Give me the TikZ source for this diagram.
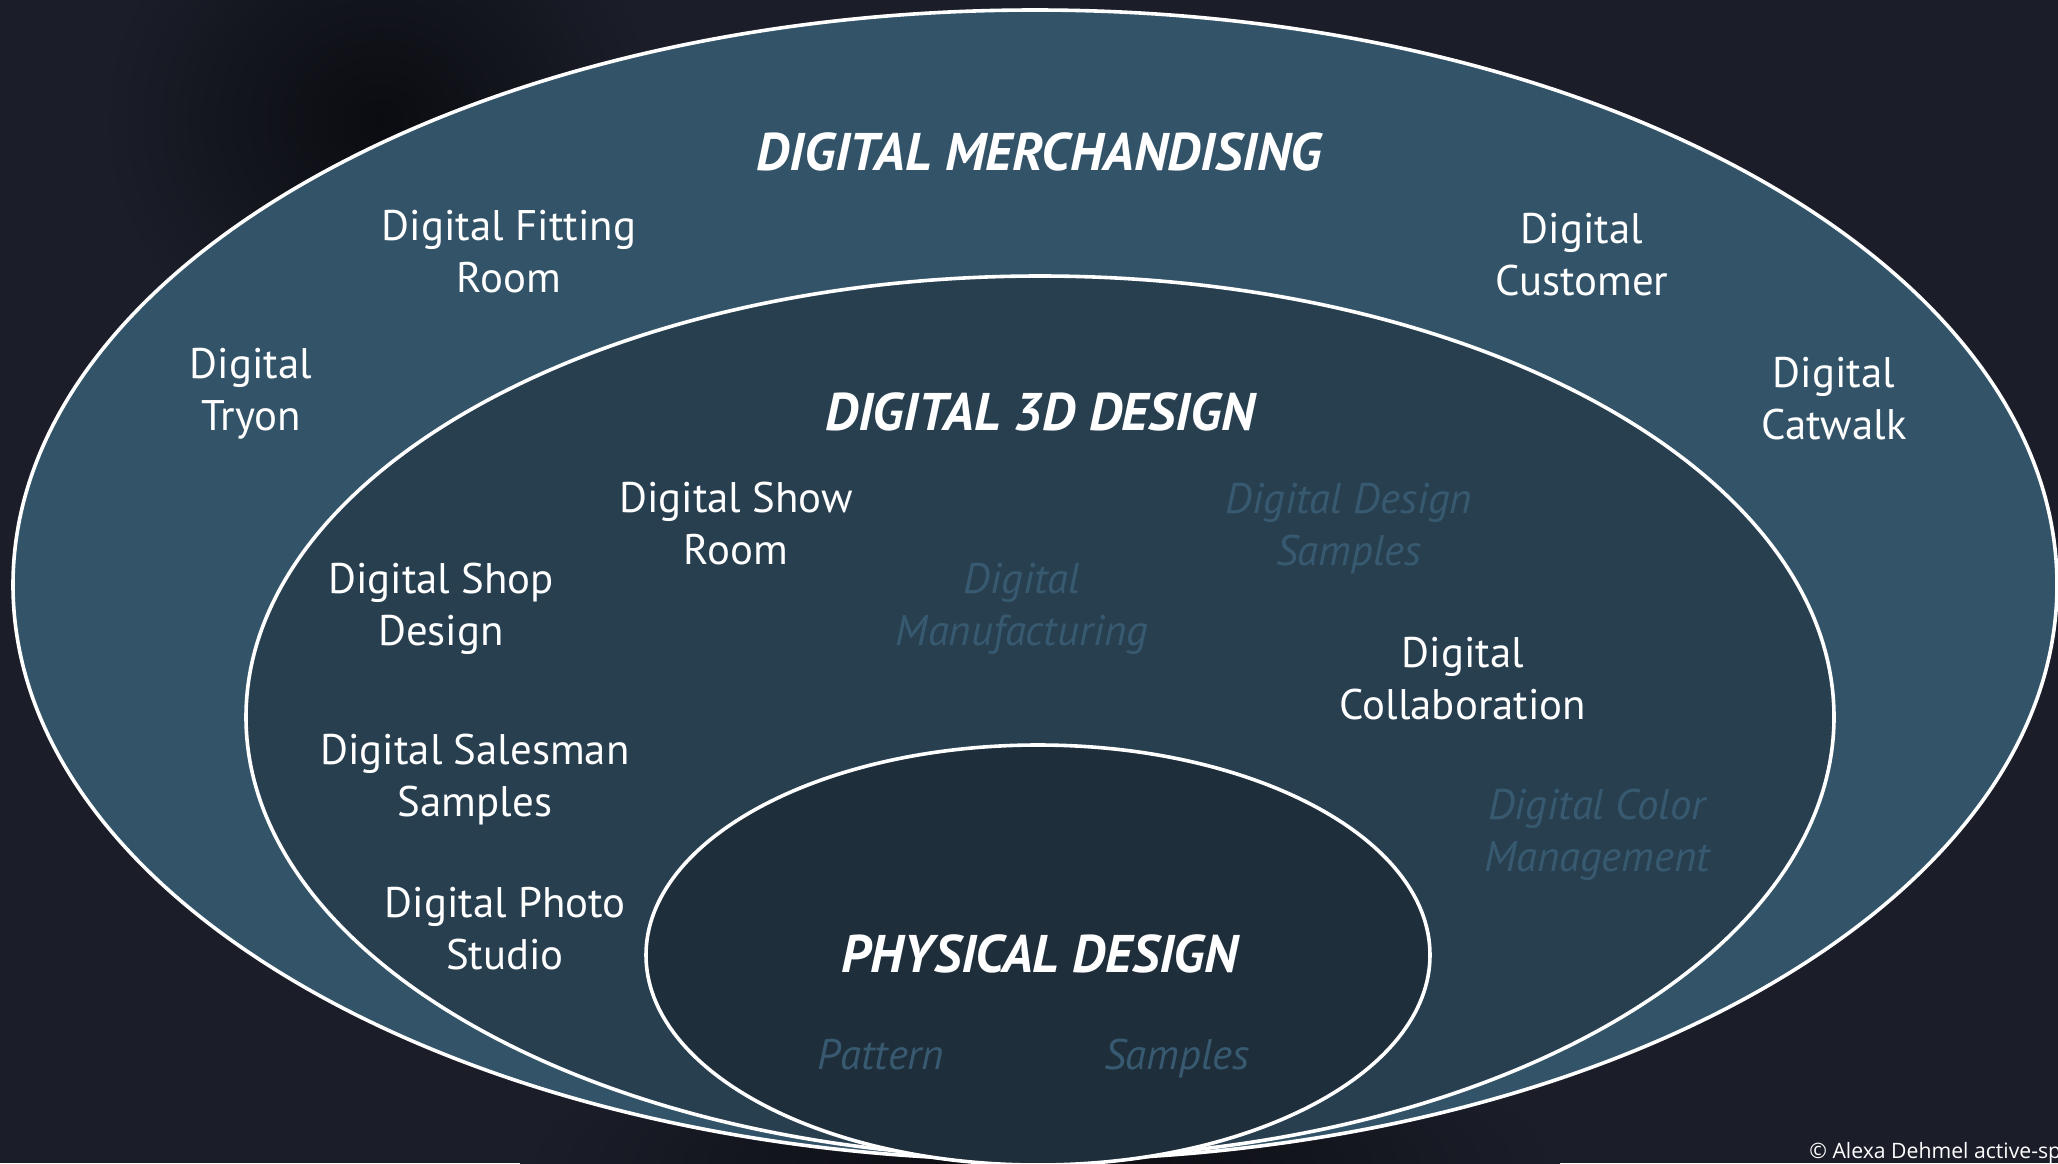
\documentclass[tikz,border=0pt]{standalone}
\usepackage{fontspec}
\setmainfont{PT Sans}
\newfontfamily\notefont{Open Sans}
\usepackage{xcolor}
\definecolor{cloth}{HTML}{1B1E29}
\definecolor{clothdark}{HTML}{0B0C11}
\definecolor{merchfill}{HTML}{335468}
\definecolor{designfill}{HTML}{283F50}
\definecolor{physfill}{HTML}{1F2E3B}
\definecolor{faint}{HTML}{385A70}

\begin{document}
\begin{tikzpicture}[x=0.5pt, y=-0.5pt, inner sep=0pt]
		\tikzstyle{every node}=[align=center, text=white, font=\fontsize{21.4}{26}\selectfont]
		\tikzstyle{title}=[font=\fontsize{26.5}{32}\selectfont\bfseries\itshape]
		\tikzstyle{ghost}=[text=faint, font=\fontsize{21.4}{26}\selectfont\itshape]
		\tikzstyle{ring}=[draw=white, line width=1.8pt]
			% background cloth
			\useasboundingbox (0, 0) rectangle (2058, 1163);
			\clip (0, 0) rectangle (2058, 1163);
			\fill[cloth] (0, 0) rectangle (2058, 1163);
			\shade[inner color=clothdark, outer color=cloth] (380, 120) ellipse (280 and 260);
			\shade[inner color=clothdark, outer color=cloth] (1040, 1163) ellipse (520 and 150);
	
			% the three rings
			\draw[ring, fill=merchfill] (1035, 585) ellipse (1022 and 575);
			\draw[ring, fill=designfill] (1040, 717) ellipse (794 and 441);
			\draw[ring, fill=physfill] (1038, 955) ellipse (392 and 210);
	
			% digital merchandising
			\node[title] (merch) at (1039, 152) {DIGITAL MERCHANDISING};
			\node (fitting) at (509, 252) {Digital Fitting\\Room};
			\node (tryon) at (251, 394) {Digital\\Tryon};
			\node (customer) at (1582, 255) {Digital\\Customer};
			\node (catwalk) at (1834, 399) {Digital\\Catwalk};
	
			% digital 3d design
			\node[title] (design3d) at (1040, 412) {DIGITAL 3D DESIGN};
			\node (showroom) at (736, 524) {Digital Show\\Room};
			\node (shop) at (441, 609) {Digital Shop\\Design};
			\node[ghost] (manufact) at (1022, 609) {Digital\\Manufacturing};
			\node[ghost] (designsmp) at (1349, 529) {Digital Design\\Samples};
			\node (collab) at (1463, 679) {Digital\\Collaboration};
			\node[ghost] (color) at (1597, 835) {Digital Color\\Management};
			\node (salesman) at (475, 780) {Digital Salesman\\Samples};
			\node (photo) at (505, 929) {Digital Photo\\Studio};
	
			% physical design
			\node[title] (physical) at (1040, 954) {PHYSICAL DESIGN};
			\node[ghost, anchor=base] (pattern) at (881, 1069) {Pattern};
			\node[ghost, anchor=base] (samples) at (1177, 1069) {Samples};
	
			\node[anchor=base west, font=\notefont\fontsize{10.6}{12}\selectfont] (credit) at (1809, 1158) {\textcopyright{} Alexa Dehmel active-sp};
		\end{tikzpicture}
\end{document}
